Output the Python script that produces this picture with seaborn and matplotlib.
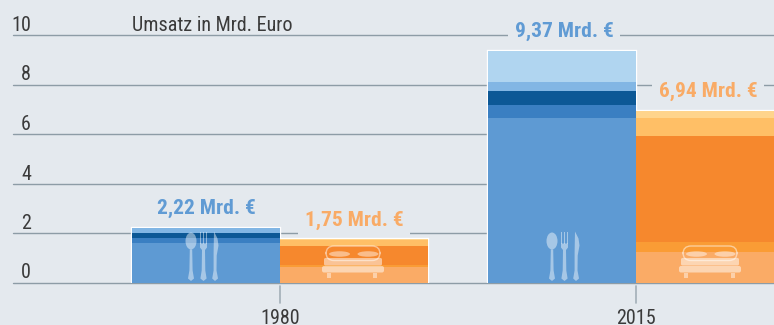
import matplotlib
matplotlib.use("Agg")
import matplotlib.pyplot as plt
from matplotlib.patches import Ellipse, FancyBboxPatch, Polygon, Rectangle
from matplotlib.transforms import Affine2D
import pandas as pd
import seaborn as sns

# ---- data ----
years = ["1980", "2015"]
kinds = ["Gastronomie", "Hotellerie"]
totals_blue = [2.22, 9.37]
totals_orange = [1.75, 6.94]
# layers listed bottom to top, one value per year
blue_layers = [[1.61, 6.65], [0.20, 0.53], [0.19, 0.57], [0.22, 0.36], [0.00, 1.26]]
orange_layers = [[0.63, 1.25], [0.08, 0.40], [0.78, 4.27], [0.21, 0.73], [0.05, 0.29]]
blue_colors = ["#5E9AD3", "#3A7FC2", "#0C5896", "#82B6E4", "#B0D5F0"]
orange_colors = ["#FAAB66", "#FA9C35", "#F6882D", "#FFBF66", "#FFD48C"]
y_ticks = [0, 2, 4, 6, 8, 10]
caption = "Umsatz in Mrd. Euro"

BG = "#E4E9EE"
BLUE_TXT = "#609BD4"
ORANGE_TXT = "#F9AB66"
INK = "#3A3A3A"

sns.set_theme(style="white")
plt.rcParams["font.family"] = ["Roboto Condensed", "Liberation Sans", "DejaVu Sans"]

fig = plt.figure(figsize=(7.74, 3.25), dpi=100, facecolor=BG)
ax = fig.add_axes([13 / 774, 42.5 / 325, 761 / 774, 282.5 / 325])
ax.set_facecolor(BG)
BAR_W = 296 / 356


def stacked_frame(n):
    """Cumulative height of layers 0..n for both series."""
    rows = []
    for k, layers in zip(kinds, (blue_layers, orange_layers)):
        for i, y in enumerate(years):
            rows.append({"year": y, "kind": k, "top": sum(l[i] for l in layers[: n + 1])})
    return pd.DataFrame(rows)


# outline first (white border), then layers from tallest to shortest
total_df = pd.DataFrame({
    "year": years * 2,
    "kind": [kinds[0]] * 2 + [kinds[1]] * 2,
    "top": totals_blue + totals_orange,
})
sns.barplot(data=total_df, x="year", y="top", hue="kind", order=years, hue_order=kinds,
            palette=[BG, BG], saturation=1, width=BAR_W, gap=0, dodge=True, legend=False, ax=ax,
            edgecolor="white", linewidth=1.7, zorder=2)
for n in range(4, -1, -1):
    sns.barplot(data=stacked_frame(n), x="year", y="top", hue="kind", order=years, hue_order=kinds,
                palette=[blue_colors[n], orange_colors[n]], saturation=1, width=BAR_W, gap=0, dodge=True,
                legend=False, ax=ax, linewidth=0, zorder=3)

ax.set_xlim((13 - 280) / 356, (774 - 280) / 356)
ax.set_ylim(0, 282.5 / 24.75)
ax.set_yticks(y_ticks)
ax.set_yticklabels([str(v) for v in y_ticks])
ax.set_xlabel("")
ax.set_ylabel("")
for s in ax.spines.values():
    s.set_visible(False)
ax.set_axisbelow(True)
ax.yaxis.grid(True, color="#8D9CA6", lw=1.0, clip_on=False)
ax.xaxis.grid(False)
ax.tick_params(axis="y", length=0, pad=-13, labelsize=14.5, labelcolor=INK)
ax.tick_params(axis="x", length=0, pad=19, labelsize=14.5, labelcolor=INK)
for lab in ax.get_yticklabels():
    lab.set_va("bottom")
for lab in ax.get_xticklabels():
    lab.set_va("top")
for gl in ax.get_ygridlines():
    gl.set_clip_on(False)
    gl.set_zorder(4 if gl.get_ydata()[0] == 0 else 0.5)

# tick marks detached from the axis
for i in range(len(years)):
    ax.plot([i, i], [-3.3 / 24.75, -20 / 24.75], color="#A3AFB7", lw=1.2, clip_on=False, zorder=1)

ax.text((132 - 13) / 761, 10, caption, transform=ax.get_yaxis_transform(),
        fontsize=14.5, color=INK, ha="left", va="bottom")

# total labels
for i in range(len(years)):
    for tot, col, sgn in ((totals_blue[i], BLUE_TXT, -1), (totals_orange[i], ORANGE_TXT, 1)):
        dx = (i * 2) * (-sgn) * 0.75 - 0.5 * sgn * 0 + (0 if i == 0 else 0)
        ax.annotate(f"{tot:.2f}".replace(".", ",") + " Mrd. €",
                    xy=(i + sgn * BAR_W / 4, tot), xytext=(dx, 13.8), textcoords="offset points",
                    ha="center", va="center", color=col, fontsize=15.4, fontweight="bold",
                    bbox=dict(boxstyle="square,pad=0.3", fc=BG, ec="none"), zorder=6)


# ---- pictograms, in pixels above the axis line ----
def px(i, sgn, nudge=0):
    x0, y0 = ax.transData.transform((i + sgn * BAR_W / 4, 0))
    return Affine2D().translate(x0 + nudge, y0)


def cutlery(tr, a=0.45):
    st = dict(fc="white", ec="none", alpha=a, transform=tr, zorder=5)
    # spoon
    ax.add_patch(Ellipse((-12, 41.5), 11, 17, **st))
    ax.add_patch(Polygon([(-13.2, 33), (-10.8, 33), (-10.4, 12), (-9, 4), (-12, 1.5), (-15, 4), (-13.6, 12)], **st))
    # fork
    for dx in (-3, 0, 3):
        ax.add_patch(Rectangle((dx, 39), 1, 12, **st))
    ax.add_patch(Polygon([(-3, 39), (4, 39), (4, 35), (2, 32.5), (2.3, 12), (3.6, 4), (0.5, 1.5), (-2.6, 4), (-1.3, 12), (-1, 32.5), (-3, 35)], **st))
    # knife
    ax.add_patch(Polygon([(11, 51), (14.5, 44), (15.5, 37), (13.7, 27), (13.5, 12), (15, 4), (12, 1.5), (9.2, 4), (10.6, 12), (10.6, 30)], **st))


def bed(tr, a=0.45):
    st = dict(fc="white", ec="none", alpha=a, transform=tr, zorder=5)
    ax.add_patch(FancyBboxPatch((-27, 22), 54, 14.5, boxstyle="round,pad=0,rounding_size=8", fc="none",
                                ec="white", lw=1.0, alpha=0.5, transform=tr, zorder=5))
    ax.add_patch(Ellipse((-13.5, 28.5), 21, 5.5, **st))
    ax.add_patch(Ellipse((15, 28.5), 21, 5.5, **st))
    for (bx, by, bw, bh, r) in ((-29, 17, 58, 7.5, 1.5), (-31, 10, 62, 6.5, 2)):
        ax.add_patch(FancyBboxPatch((bx, by), bw, bh, boxstyle=f"round,pad=0,rounding_size={r}",
                                    fc="white", ec="none", alpha=a + 0.05, transform=tr, zorder=5.5))
    ax.add_patch(Rectangle((-26, 5), 4, 5, **st))
    ax.add_patch(Rectangle((20.5, 5), 4, 5, **st))


cutlery(px(0, -1, -3))
cutlery(px(1, -1, 2))
bed(px(0, 1, -1))
bed(px(1, 1, 0))

fig.savefig("out.png", dpi=100, facecolor=BG)
